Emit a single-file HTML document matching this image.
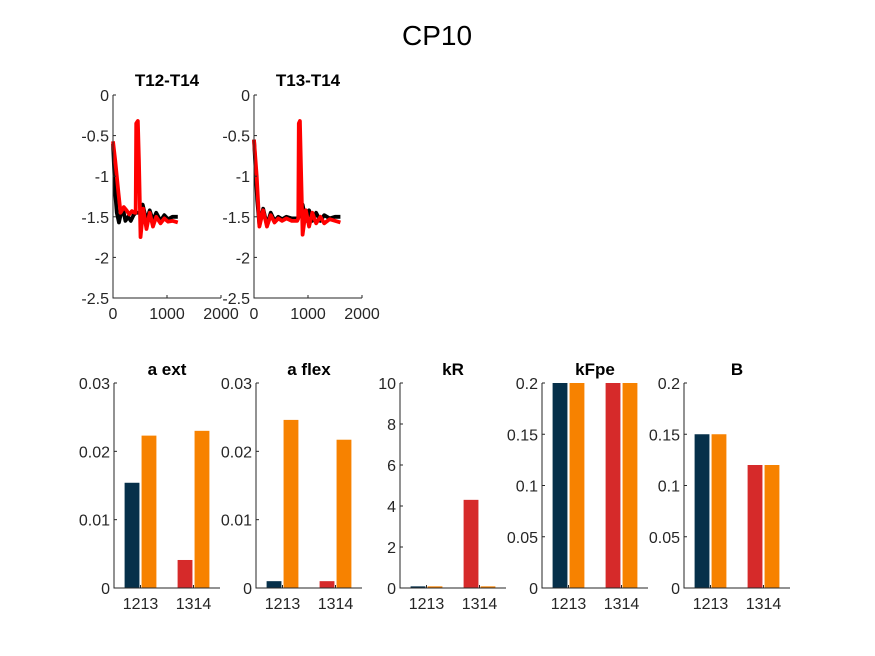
<!DOCTYPE html>
<html><head><meta charset="utf-8"><style>
body{margin:0;background:#fff}
svg{display:block;font-family:"Liberation Sans",Arial,sans-serif}
</style></head><body>
<svg id="fig" width="875" height="656" viewBox="0 0 875 656">
<rect width="875" height="656" fill="#fff"/>
<text x="437" y="45" text-anchor="middle" font-size="28" fill="#000">CP10</text>
</svg>
<script>
// Line panel data
const t1Black=[[0,-0.6],[40,-1.2],[70,-1.45],[110,-1.57],[150,-1.45],[190,-1.42],[230,-1.55],[280,-1.5],[330,-1.55],[380,-1.48],[420,-1.45],[460,-1.45],[500,-1.45],[550,-1.35],[620,-1.55],[680,-1.42],[740,-1.55],[800,-1.45],[880,-1.55],[950,-1.48],[1020,-1.53],[1100,-1.5],[1200,-1.5]];
const t1Red=[[0,-0.57],[40,-0.8],[100,-1.2],[140,-1.45],[200,-1.38],[250,-1.42],[300,-1.47],[350,-1.43],[400,-1.45],[420,-1.45],[430,-0.35],[460,-0.32],[480,-0.8],[510,-1.75],[560,-1.4],[620,-1.65],[680,-1.45],[740,-1.62],[800,-1.5],[880,-1.58],[950,-1.52],[1020,-1.56],[1100,-1.55],[1200,-1.57]];
const t2Black=[[0,-0.55],[60,-1.3],[100,-1.6],[170,-1.4],[240,-1.6],[310,-1.45],[380,-1.55],[450,-1.5],[520,-1.53],[600,-1.5],[700,-1.52],[800,-1.52],[830,-1.5],[900,-1.35],[960,-1.55],[1020,-1.42],[1080,-1.55],[1150,-1.45],[1230,-1.55],[1300,-1.48],[1400,-1.52],[1500,-1.5],[1600,-1.5]];
const t2Red=[[0,-0.55],[50,-1.0],[100,-1.62],[170,-1.42],[240,-1.62],[310,-1.48],[380,-1.57],[450,-1.52],[520,-1.55],[600,-1.52],[700,-1.55],[800,-1.55],[820,-1.52],[830,-0.35],[850,-0.32],[870,-0.9],[900,-1.72],[960,-1.42],[1020,-1.62],[1080,-1.45],[1150,-1.58],[1230,-1.5],[1300,-1.58],[1400,-1.53],[1500,-1.55],[1600,-1.57]];
const lineXTicks=[0,1000,2000];
const lineYTicks=[0,-0.5,-1,-1.5,-2,-2.5];
const lineYLabels=["0","-0.5","-1","-1.5","-2","-2.5"];
// Bar panel data
const barCats=["1213","1314"];
const barTitles=["a ext","a flex","kR","kFpe","B"];
const seriesFirst=[0.0154,0.001,0.08,0.2,0.15];
const seriesFirst2=[0.0041,0.001,4.3,0.2,0.12];
const seriesSecond=[0.0223,0.0246,0.08,0.2,0.15];
const seriesSecond2=[0.023,0.0217,0.08,0.2,0.12];
const barYMax=[0.03,0.03,10,0.2,0.2];
const barYTicks=[[0,0.01,0.02,0.03],[0,0.01,0.02,0.03],[0,2,4,6,8,10],[0,0.05,0.1,0.15,0.2],[0,0.05,0.1,0.15,0.2]];

const NS="http://www.w3.org/2000/svg";
const svg=document.getElementById('fig');
function mk(tag,attrs,parent){const e=document.createElementNS(NS,tag);for(const k in attrs)e.setAttribute(k,attrs[k]);(parent||svg).appendChild(e);return e;}
const axc="#262626";
const TICK=16, TITLE=17;

function linePanel(x0,x1,y0,y1,title,black,red,name){
  const g=mk('g',{});
  
  
  const sx=v=>x0+v/2000*(x1-x0), sy=v=>y0+(0-v)/2.5*(y1-y0);
  [[black,'#000','black-line'],[red,'#ff0000','red-line']].forEach(([d,c,n])=>{
    const p=mk('polyline',{points:d.map(q=>sx(q[0])+','+sy(q[1])).join(' '),fill:'none',stroke:c,'stroke-width':3.8,'stroke-linejoin':'round'},g);
    
    
  });
  const ax=mk('path',{d:`M${x0},${y0}V${y1}H${x1}`,stroke:axc,fill:'none','stroke-width':1},g);
  
  
  lineYTicks.forEach((v,i)=>{
    mk('line',{x1:x0,x2:x0+3,y1:sy(v),y2:sy(v),stroke:axc},g);
    const t=mk('text',{x:x0-4,y:sy(v)+6,'text-anchor':'end','font-size':TICK,fill:axc},g);
    t.textContent=lineYLabels[i];
    
    
  });
  lineXTicks.forEach(v=>{
    mk('line',{x1:sx(v),x2:sx(v),y1:y1,y2:y1-3,stroke:axc},g);
    const t=mk('text',{x:sx(v),y:y1+21,'text-anchor':'middle','font-size':TICK,fill:axc},g);
    t.textContent=String(v);
    
    
  });
  const tt=mk('text',{x:(x0+x1)/2,y:y0-9,'text-anchor':'middle','font-size':TITLE,'font-weight':'bold',fill:'#000'},g);
  tt.textContent=title;
  
  
}
linePanel(113,221,95,298,"T12-T14",t1Black,t1Red,'panel-t12-t14');
linePanel(254,362,95,298,"T13-T14",t2Black,t2Red,'panel-t13-t14');

const barLefts=[114,256,400,542,684];
barTitles.forEach((title,k)=>{
  const x0=barLefts[k],x1=x0+106,y0=383,y1=588;
  const g=mk('g',{});
  
  
  const sx=v=>x0+(v-0.5)/2*(x1-x0), sy=v=>y1-Math.min(v,barYMax[k])/barYMax[k]*(y1-y0);
  const vals=[[seriesFirst[k],seriesSecond[k]],[seriesFirst2[k],seriesSecond2[k]]];
  const cols=[['#06304a','#f78200'],['#d62a2a','#f78200']];
  vals.forEach((pair,ci)=>{
    pair.forEach((v,si)=>{
      const c=ci+1+(si===0?-0.16:0.16);
      const w=0.28*(x1-x0)/2;
      const r=mk('rect',{x:sx(c)-w/2,y:sy(v),width:w,height:y1-sy(v),fill:cols[ci][si]},g);
      
      
    });
  });
  const ax=mk('path',{d:`M${x0},${y0}V${y1}H${x1}`,stroke:axc,fill:'none','stroke-width':1},g);
  
  
  barYTicks[k].forEach(v=>{
    mk('line',{x1:x0,x2:x0+3,y1:sy(v),y2:sy(v),stroke:axc},g);
    const t=mk('text',{x:x0-4,y:sy(v)+6,'text-anchor':'end','font-size':TICK,fill:axc},g);
    t.textContent=String(v);
    
    
  });
  barCats.forEach((c,i)=>{
    mk('line',{x1:sx(i+1),x2:sx(i+1),y1:y1,y2:y1-3,stroke:axc},g);
    const t=mk('text',{x:sx(i+1),y:y1+21,'text-anchor':'middle','font-size':TICK,fill:axc},g);
    t.textContent=c;
    
    
  });
  const tt=mk('text',{x:(x0+x1)/2,y:y0-8,'text-anchor':'middle','font-size':TITLE,'font-weight':'bold',fill:'#000'},g);
  tt.textContent=title;
  
  
});
</script>
</body></html>
